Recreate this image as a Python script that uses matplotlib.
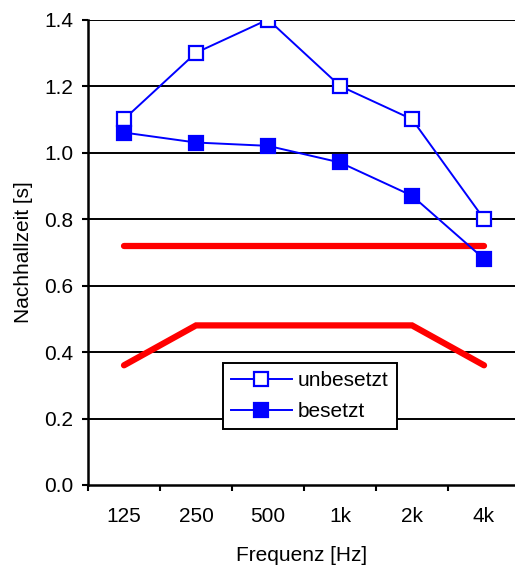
import numpy as np
import matplotlib.pyplot as plt

plt.rcParams['font.family'] = ['Liberation Sans', 'DejaVu Sans']

# Data
bands = ['125', '250', '500', '1k', '2k', '4k']
unbesetzt = [1.10, 1.30, 1.40, 1.20, 1.10, 0.80]
besetzt = [1.06, 1.03, 1.02, 0.97, 0.87, 0.68]
# tolerance band (red lines)
upper_limit = [0.72, 0.72, 0.72, 0.72, 0.72, 0.72]
lower_limit = [0.36, 0.48, 0.48, 0.48, 0.48, 0.36]

x = np.arange(len(bands))

fig = plt.figure(figsize=(5.15, 5.65), dpi=100)
ax = fig.add_axes([88 / 515, 1 - 485 / 565, (515 - 88) / 515, (485 - 19.5) / 565])

# gridlines
for yv in np.arange(0.2, 1.41, 0.2):
    ax.axhline(yv, color='black', lw=1.4, zorder=1)

ax.plot(x, upper_limit, color='#ff0000', lw=4.5, solid_capstyle='round', zorder=2)
ax.plot(x, lower_limit, color='#ff0000', lw=4.5, solid_capstyle='round',
        solid_joinstyle='miter', zorder=2)

ax.plot(x, unbesetzt, color='#0000ff', lw=1.4, marker='s', markersize=10,
        markerfacecolor='white', markeredgecolor='#0000ff', markeredgewidth=1.6,
        label='unbesetzt', zorder=3)
ax.plot(x, besetzt, color='#0000ff', lw=1.4, marker='s', markersize=10,
        markerfacecolor='#0000ff', markeredgecolor='#0000ff', markeredgewidth=1.6,
        label='besetzt', zorder=3)

ax.set_xlim(-0.5, 5.43)
ax.set_ylim(0, 1.4)
ax.set_yticks(np.arange(0, 1.41, 0.2))
ax.set_yticklabels([f'{v:.1f}' for v in np.arange(0, 1.41, 0.2)])
ax.set_xticks(x)
ax.set_xticklabels(bands)
ax.tick_params(axis='x', length=0, labelsize=15, pad=16)
ax.set_xticks(np.arange(-0.5, 5.5, 1.0), minor=True)
ax.tick_params(axis='x', which='minor', length=4.5, width=1.5, direction='out')
ax.tick_params(axis='y', length=4.5, width=1.5, direction='out', labelsize=15, pad=6)

for s in ['top', 'right']:
    ax.spines[s].set_visible(False)
for s in ['left', 'bottom']:
    ax.spines[s].set_linewidth(1.8)

ax.set_xlabel('Frequenz [Hz]', fontsize=15, labelpad=14)
ax.set_ylabel('Nachhallzeit [s]', fontsize=15, labelpad=8)

leg = ax.legend(loc='lower left', bbox_to_anchor=(0.316, 0.12), borderaxespad=0,
                fontsize=15, frameon=True, fancybox=False, shadow=False, framealpha=1,
                handlelength=2.9, handletextpad=0.3, borderpad=0.4, labelspacing=0.55)
leg.get_frame().set_edgecolor('black')
leg.get_frame().set_linewidth(1.4)
leg.set_zorder(5)

fig.savefig('out.png', dpi=100)
